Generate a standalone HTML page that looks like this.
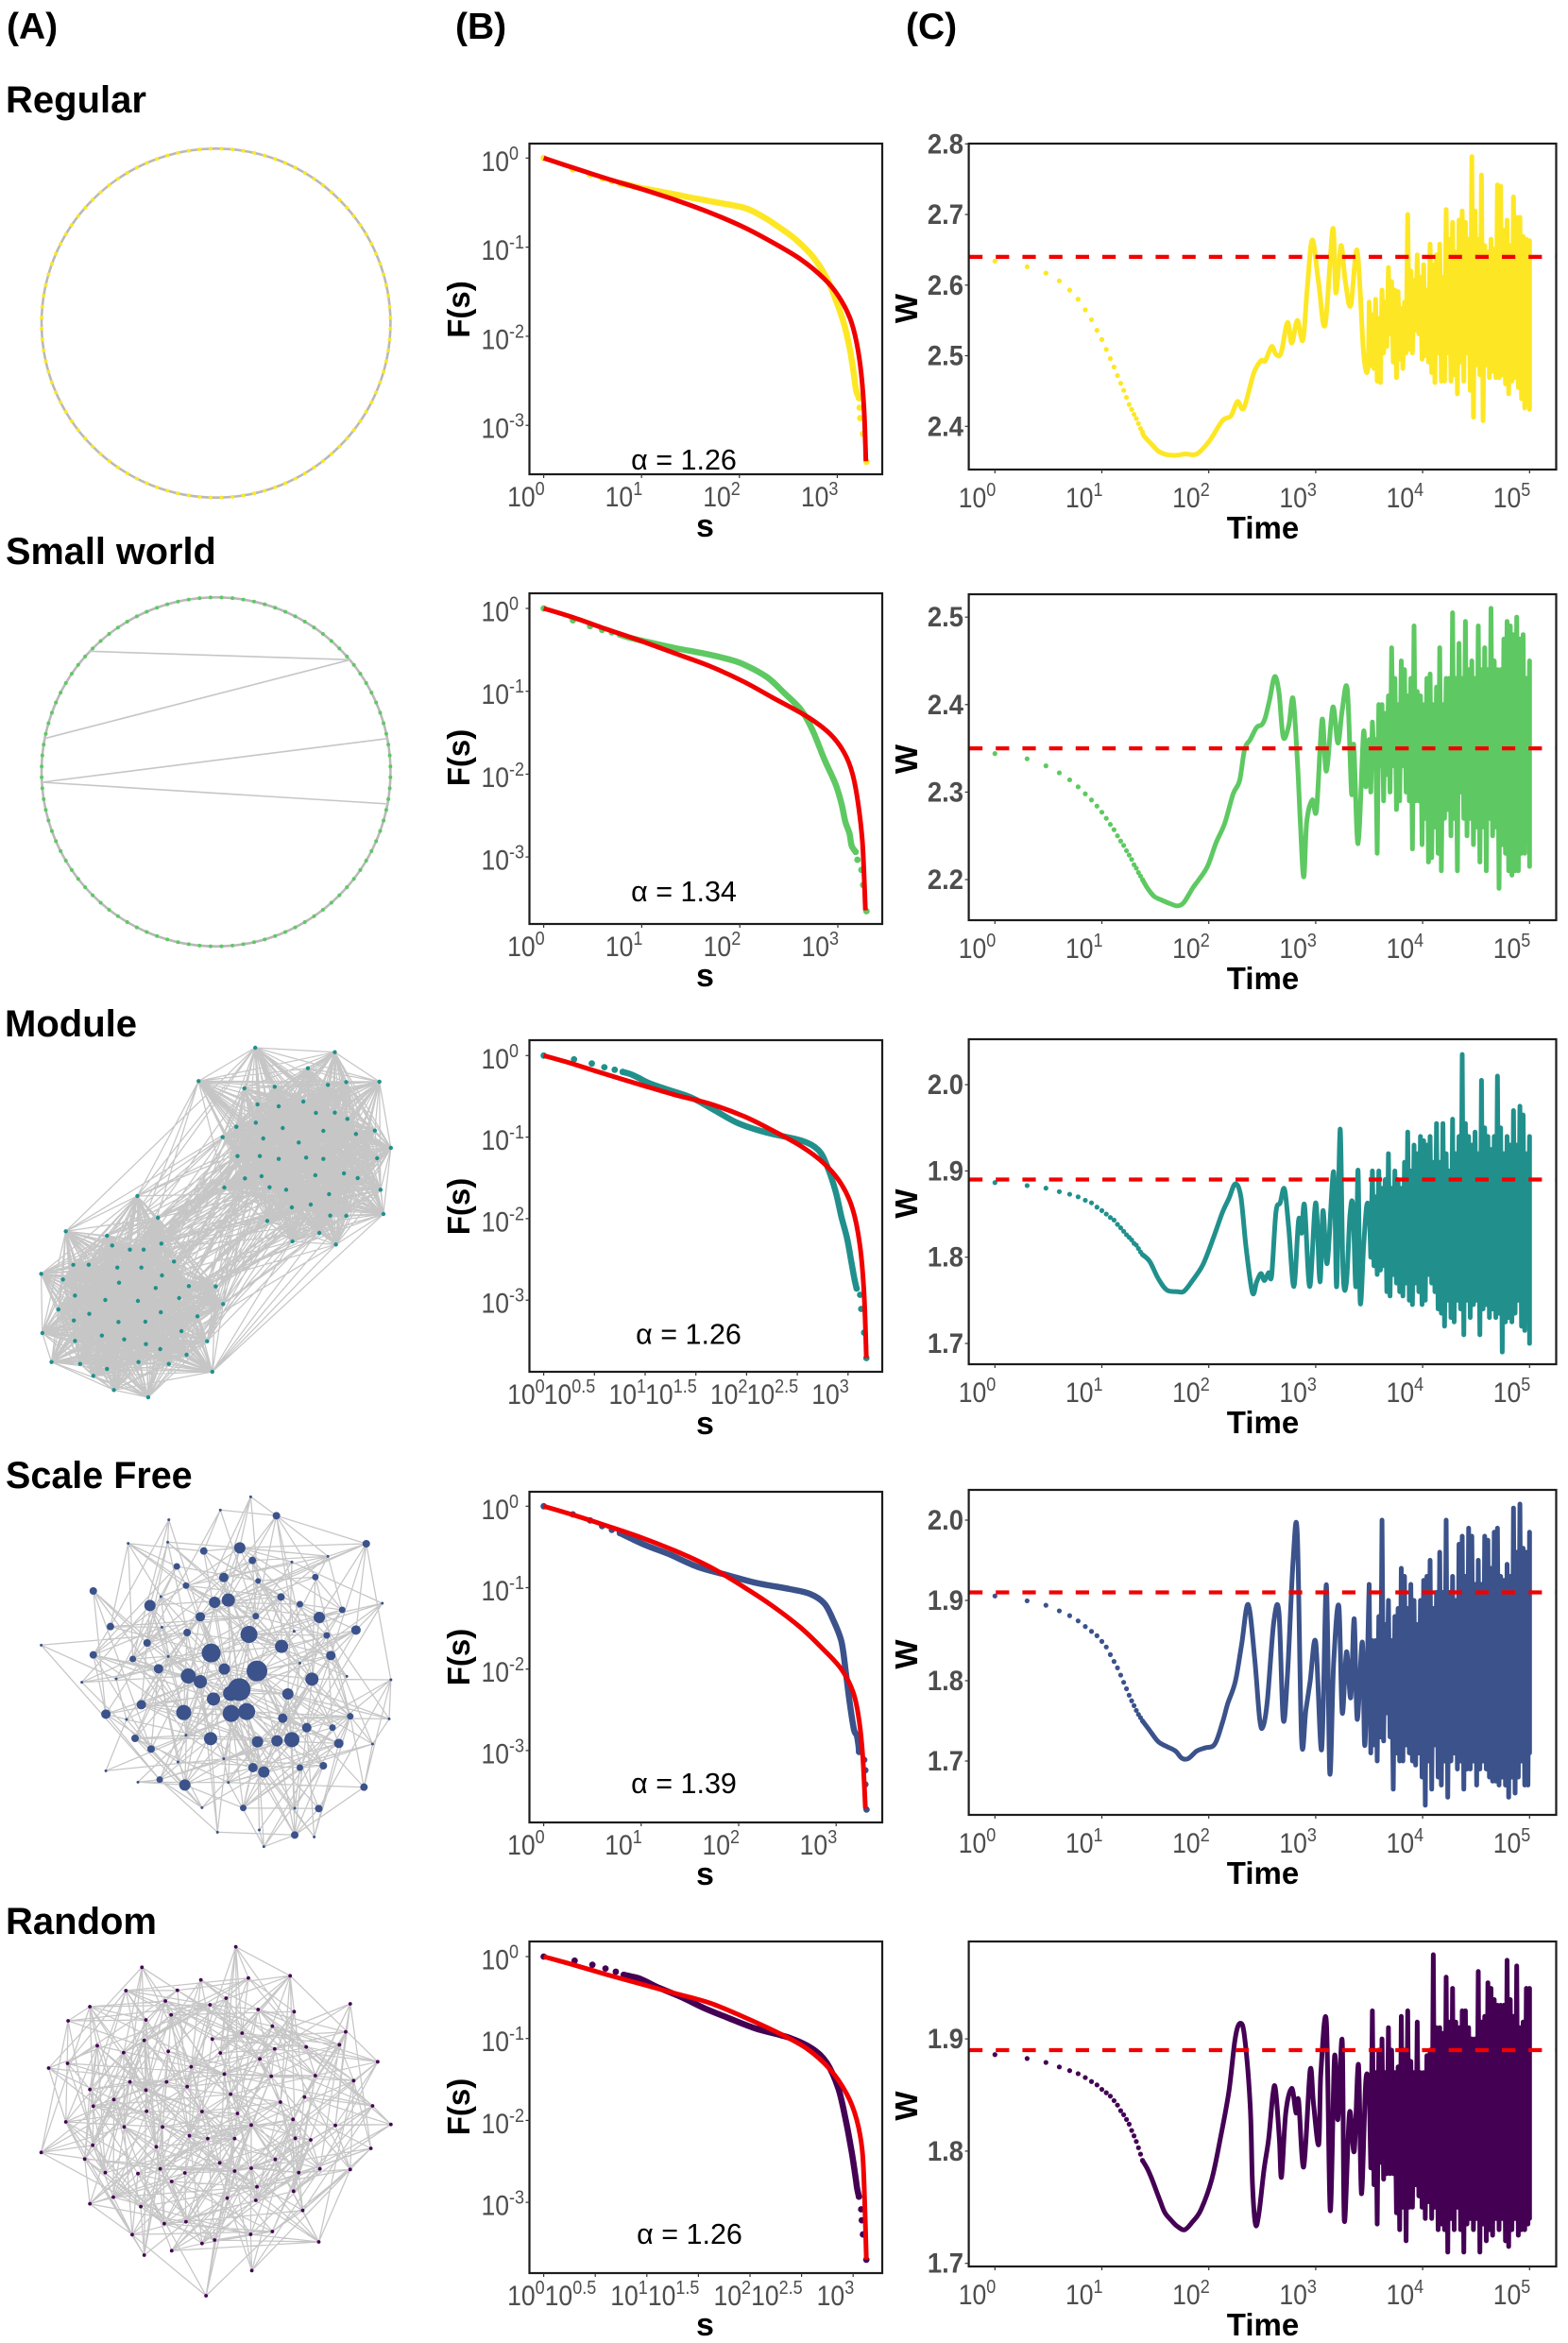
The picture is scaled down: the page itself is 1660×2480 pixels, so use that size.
<!DOCTYPE html>
<html lang="en">
<head>
<meta charset="utf-8">
<title>Network dynamics panels</title>
<style>
html,body{margin:0;padding:0;background:#fff}
svg{display:block;font-family:"Liberation Sans",Arial,sans-serif}
.h{font-weight:700;fill:#000}
</style>
</head>
<body>
<svg id="figure" xmlns="http://www.w3.org/2000/svg" width="1660" height="2480" viewBox="0 0 1660 2480">
<rect width="1660" height="2480" fill="#fff"/>
<text class="h" x="7" y="41" font-size="39">(A)</text>
<text class="h" x="482" y="41" font-size="39">(B)</text>
<text class="h" x="959" y="41" font-size="39">(C)</text>
<text class="h" x="6" y="119" font-size="40">Regular</text>
<text class="h" x="6" y="597" font-size="39.7">Small world</text>
<text class="h" x="5" y="1097" font-size="40">Module</text>
<text class="h" x="6" y="1575" font-size="39.5">Scale Free</text>
<text class="h" x="6" y="2047" font-size="40">Random</text>
</svg>
<script>
// ---------- tick values ----------
const fsYTicks = [0,-1,-2,-3];
const fsXTicksPlain = [0,1,2,3];
const fsXTicksHalf = [0,0.5,1,1.5,2,2.5,3];
const timeTicks = [0,1,2,3,4,5];
const regularWTicks = [2.4,2.5,2.6,2.7,2.8];
const smallWorldWTicks = [2.2,2.3,2.4,2.5];
const moduleWTicks = [1.7,1.8,1.9,2.0];
const scaleFreeWTicks = [1.7,1.8,1.9,2.0];
const randomWTicks = [1.7,1.8,1.9];

// ---------- printed values ----------
const alphaValues = ['1.26','1.34','1.26','1.39','1.26'];
const baselineW = [2.64,2.35,1.89,1.91,1.89];

// ---------- column B: survival F(s), log10 units ----------
const regularFsLogS = [0,.298,.474,.602,.696,.778,.877,.994,1.17,1.462,1.754,2.047,2.222,2.398,2.573,2.749,2.895,2.982,3.07,3.129,3.17,3.193,3.222,3.228,3.234,3.263,3.298];
const regularFsLogF = [0,-.127,-.187,-.23,-.258,-.283,-.304,-.336,-.371,-.435,-.495,-.558,-.647,-.77,-.912,-1.106,-1.353,-1.583,-1.866,-2.148,-2.431,-2.608,-2.696,-2.802,-2.919,-3.095,-3.41];
const regularFitLogS = [0,.292,.643,.994,1.345,1.696,2.047,2.339,2.632,2.865,3.012,3.129,3.199,3.246,3.275,3.292];
const regularFitLogF = [0,-.106,-.23,-.346,-.47,-.611,-.777,-.947,-1.141,-1.353,-1.548,-1.795,-2.078,-2.431,-2.855,-3.403];

const smallWorldFsLogS = [0,.298,.473,.596,.695,.776,.876,1.051,1.343,1.635,1.868,2.043,2.277,2.452,2.627,2.744,2.861,2.977,3.036,3.077,3.118,3.141,3.182,3.2,3.24,3.258,3.292];
const smallWorldFsLogF = [0,-.144,-.213,-.259,-.289,-.316,-.354,-.403,-.479,-.544,-.608,-.677,-.829,-1.019,-1.228,-1.475,-1.817,-2.122,-2.35,-2.578,-2.711,-2.863,-2.939,-3.034,-3.156,-3.338,-3.654];
const smallWorldFitLogS = [0,.292,.642,.992,1.343,1.693,2.043,2.335,2.685,2.919,3.065,3.152,3.211,3.252,3.281];
const smallWorldFitLogF = [0,-.106,-.251,-.392,-.544,-.696,-.886,-1.076,-1.304,-1.513,-1.741,-2.008,-2.388,-2.844,-3.643];

const moduleFsLogS = [0,.299,.474,.598,.7,.778,.846,.93,1.043,1.241,1.466,1.692,1.917,2.2,2.538,2.707,2.792,2.876,2.933,2.99,3.03,3.063,3.085,3.119,3.13,3.158,3.181];
const moduleFsLogF = [0,-.046,-.097,-.143,-.174,-.2,-.224,-.27,-.34,-.425,-.521,-.676,-.83,-.946,-1.042,-1.158,-1.351,-1.66,-1.969,-2.239,-2.51,-2.741,-2.857,-2.934,-3.108,-3.398,-3.71];
const moduleFitLogS = [0,.282,.62,.959,1.297,1.636,1.974,2.256,2.538,2.764,2.933,3.046,3.119,3.158,3.181];
const moduleFitLogF = [0,-.1,-.232,-.359,-.483,-.591,-.745,-.919,-1.112,-1.324,-1.575,-1.884,-2.347,-2.927,-3.71];

const scaleFreeFsLogS = [0,.299,.476,.599,.699,.781,.881,1.057,1.292,1.585,1.879,2.173,2.525,2.73,2.877,2.965,3.053,3.1,3.141,3.182,3.212,3.229,3.235,3.288,3.3,3.3,3.312];
const scaleFreeFsLogF = [0,-.1,-.174,-.244,-.29,-.329,-.387,-.484,-.592,-.747,-.844,-.94,-1.017,-1.075,-1.191,-1.385,-1.656,-2.043,-2.43,-2.739,-2.817,-2.933,-3.017,-3.114,-3.242,-3.416,-3.725];
const scaleFreeFitLogS = [0,.294,.646,.998,1.351,1.703,2.055,2.349,2.642,2.877,3.053,3.171,3.23,3.271,3.3];
const scaleFreeFitLogF = [0,-.104,-.24,-.383,-.549,-.743,-.994,-1.226,-1.497,-1.768,-2.0,-2.271,-2.58,-3.044,-3.714];

const randomFsLogS = [0,.3,.472,.599,.699,.776,.849,.915,.998,1.109,1.331,1.553,1.775,2.052,2.385,2.607,2.745,2.856,2.928,2.984,3.017,3.028,3.039,3.056,3.078,3.084,3.095,3.128];
const randomFsLogF = [0,-.05,-.1,-.146,-.185,-.223,-.242,-.262,-.308,-.377,-.492,-.627,-.742,-.877,-.992,-1.127,-1.3,-1.608,-1.992,-2.373,-2.642,-2.738,-2.835,-2.931,-3.085,-3.219,-3.392,-3.7];
const randomFitLogS = [0,.277,.61,.943,1.276,1.608,1.941,2.274,2.551,2.773,2.94,3.034,3.089,3.111,3.128];
const randomFitLogF = [0,-.096,-.219,-.335,-.45,-.565,-.738,-.931,-1.123,-1.373,-1.681,-1.988,-2.373,-2.95,-3.7];

// ---------- column C: W(t) ----------
const earlyTimes = [1,2,3,4,5,6,7,8,9,10,11,12,13,14,15,16,17,18,19,20,21,22,23,24];
const regularEarlyW = [2.634,2.626,2.617,2.606,2.593,2.58,2.565,2.551,2.536,2.523,2.509,2.496,2.484,2.472,2.461,2.451,2.441,2.431,2.424,2.417,2.411,2.404,2.397,2.392];
const smallWorldEarlyW = [2.344,2.338,2.33,2.322,2.314,2.306,2.298,2.291,2.284,2.277,2.27,2.263,2.257,2.25,2.244,2.239,2.233,2.228,2.223,2.217,2.213,2.208,2.204,2.2];
const moduleEarlyW = [1.8865,1.883,1.88,1.876,1.873,1.87,1.866,1.863,1.858,1.854,1.85,1.846,1.843,1.838,1.834,1.83,1.826,1.823,1.82,1.816,1.814,1.81,1.806,1.803];
const scaleFreeEarlyW = [1.9055,1.8995,1.894,1.887,1.881,1.8745,1.8675,1.8615,1.856,1.849,1.842,1.8325,1.824,1.816,1.807,1.798,1.79,1.782,1.775,1.769,1.763,1.758,1.754,1.75];
const randomEarlyW = [1.886,1.8825,1.879,1.875,1.8717,1.869,1.8655,1.862,1.859,1.855,1.852,1.849,1.845,1.841,1.836,1.8324,1.8282,1.824,1.8184,1.8136,1.8086,1.803,1.7973,1.7917];

const regularMidLogT = [1.396,1.476,1.528,1.604,1.70,1.78,1.888,2.004,2.128,2.208,2.268,2.328,2.42,2.488,2.528,2.588,2.628,2.676,2.736,2.776,2.828,2.88,2.92,2.968,3.028,3.088,3.16,3.188,3.236,3.276,3.328,3.388,3.448,3.488];
const regularMidW = [2.386,2.373,2.365,2.36,2.359,2.361,2.361,2.379,2.408,2.415,2.435,2.426,2.475,2.493,2.493,2.513,2.502,2.504,2.547,2.518,2.55,2.522,2.593,2.664,2.602,2.544,2.68,2.589,2.656,2.607,2.571,2.649,2.504,2.482];
const smallWorldMidLogT = [1.428,1.488,1.568,1.648,1.708,1.768,1.848,1.908,1.988,2.068,2.148,2.228,2.288,2.336,2.388,2.448,2.496,2.528,2.568,2.616,2.656,2.696,2.748,2.788,2.828,2.856,2.888,2.916,2.968,3.008,3.06,3.1,3.16,3.208,3.248,3.296,3.336,3.356,3.396,3.448,3.468];
const smallWorldMidW = [2.19,2.181,2.176,2.172,2.17,2.174,2.19,2.2,2.215,2.242,2.264,2.298,2.313,2.349,2.36,2.374,2.377,2.385,2.405,2.432,2.414,2.363,2.376,2.407,2.338,2.266,2.203,2.266,2.291,2.28,2.383,2.324,2.397,2.356,2.394,2.417,2.298,2.354,2.241,2.369,2.306];
const moduleMidLogT = [1.448,1.528,1.608,1.708,1.768,1.848,1.948,2.048,2.128,2.188,2.248,2.3,2.348,2.408,2.448,2.488,2.52,2.56,2.588,2.628,2.668,2.708,2.748,2.796,2.84,2.868,2.896,2.944,3.0,3.04,3.068,3.108,3.168,3.196,3.228,3.256,3.288,3.32,3.348,3.376,3.396,3.416,3.448,3.476];
const moduleMidW = [1.795,1.775,1.762,1.76,1.7605,1.773,1.792,1.824,1.852,1.868,1.885,1.87,1.812,1.759,1.7715,1.781,1.773,1.782,1.779,1.852,1.863,1.879,1.8335,1.766,1.843,1.828,1.86,1.766,1.863,1.7715,1.854,1.793,1.899,1.766,1.9485,1.782,1.7715,1.848,1.859,1.766,1.901,1.748,1.812,1.859];
const scaleFreeMidLogT = [1.448,1.528,1.608,1.688,1.748,1.808,1.888,1.968,2.056,2.128,2.176,2.248,2.308,2.368,2.428,2.476,2.508,2.548,2.608,2.656,2.696,2.736,2.788,2.828,2.868,2.908,2.948,3.0,3.056,3.1,3.132,3.168,3.216,3.248,3.288,3.328,3.36,3.388,3.436,3.46];
const scaleFreeMidW = [1.738,1.724,1.718,1.7125,1.7035,1.703,1.7125,1.7165,1.721,1.748,1.771,1.799,1.846,1.895,1.83,1.752,1.743,1.775,1.873,1.885,1.752,1.807,1.948,1.983,1.726,1.7635,1.799,1.848,1.7145,1.9195,1.685,1.822,1.893,1.76,1.836,1.779,1.877,1.752,1.848,1.72];
const randomMidLogT = [1.428,1.468,1.508,1.548,1.588,1.648,1.708,1.776,1.848,1.928,2.028,2.108,2.188,2.248,2.296,2.336,2.388,2.408,2.436,2.468,2.516,2.56,2.6,2.624,2.66,2.68,2.72,2.776,2.816,2.84,2.888,2.948,2.98,3.028,3.048,3.1,3.136,3.176,3.208,3.248,3.268,3.316,3.36,3.4,3.428,3.468];
const randomMidW = [1.7839,1.775,1.765,1.755,1.7454,1.7384,1.7328,1.73,1.737,1.748,1.775,1.811,1.853,1.901,1.914,1.901,1.8394,1.772,1.735,1.744,1.783,1.811,1.8506,1.855,1.811,1.777,1.834,1.856,1.834,1.845,1.786,1.872,1.842,1.806,1.869,1.915,1.747,1.884,1.828,1.898,1.738,1.834,1.80,1.877,1.762,1.862];

const lateLogT = [3.500,3.515,3.530,3.545,3.560,3.575,3.590,3.605,3.620,3.635,3.650,3.665,3.680,3.695,3.710,3.725,3.740,3.755,3.770,3.785,3.800,3.815,3.830,3.845,3.860,3.875,3.890,3.905,3.920,3.935,3.950,3.965,3.980,3.995,4.010,4.025,4.040,4.055,4.070,4.085,4.100,4.115,4.130,4.145,4.160,4.175,4.190,4.205,4.220,4.235,4.250,4.265,4.280,4.295,4.310,4.325,4.340,4.355,4.370,4.385,4.400,4.415,4.430,4.445,4.460,4.475,4.490,4.505,4.520,4.535,4.550,4.565,4.580,4.595,4.610,4.625,4.640,4.655,4.670,4.685,4.700,4.715,4.730,4.745,4.760,4.775,4.790,4.805,4.820,4.835,4.850,4.865,4.880,4.895,4.910,4.925,4.940,4.955,4.970,4.985,5.000,5.000];
const regularLateW = [2.576,2.486,2.558,2.482,2.58,2.464,2.553,2.462,2.593,2.504,2.576,2.513,2.625,2.531,2.605,2.491,2.593,2.469,2.591,2.495,2.567,2.482,2.576,2.504,2.7,2.509,2.62,2.504,2.607,2.536,2.643,2.531,2.611,2.495,2.629,2.5,2.593,2.491,2.658,2.476,2.629,2.462,2.643,2.504,2.658,2.464,2.611,2.464,2.707,2.504,2.665,2.464,2.689,2.473,2.647,2.446,2.692,2.491,2.705,2.464,2.689,2.504,2.665,2.451,2.782,2.413,2.705,2.487,2.665,2.473,2.756,2.408,2.656,2.487,2.647,2.469,2.665,2.478,2.651,2.469,2.742,2.469,2.74,2.473,2.678,2.46,2.692,2.446,2.656,2.464,2.725,2.469,2.696,2.455,2.696,2.439,2.669,2.426,2.665,2.433,2.663,2.424];
const smallWorldLateW = [2.36,2.3,2.38,2.34,2.36,2.23,2.4,2.33,2.4,2.29,2.39,2.32,2.41,2.3,2.465,2.33,2.43,2.28,2.4,2.29,2.45,2.33,2.44,2.3,2.41,2.29,2.43,2.235,2.49,2.29,2.415,2.29,2.41,2.24,2.4,2.27,2.43,2.22,2.435,2.225,2.4,2.26,2.42,2.23,2.465,2.21,2.4,2.27,2.43,2.28,2.43,2.25,2.505,2.27,2.43,2.21,2.47,2.3,2.43,2.27,2.495,2.25,2.44,2.27,2.45,2.24,2.43,2.26,2.49,2.22,2.44,2.26,2.465,2.21,2.44,2.27,2.51,2.25,2.45,2.26,2.44,2.19,2.44,2.24,2.475,2.23,2.495,2.21,2.49,2.205,2.48,2.21,2.5,2.21,2.475,2.23,2.48,2.23,2.43,2.25,2.45,2.215];
const moduleLateW = [1.86,1.8,1.9,1.79,1.87,1.78,1.9,1.785,1.88,1.79,1.89,1.76,1.92,1.755,1.88,1.78,1.9,1.77,1.89,1.76,1.88,1.755,1.91,1.77,1.945,1.75,1.9,1.745,1.93,1.77,1.92,1.76,1.94,1.745,1.935,1.75,1.93,1.78,1.94,1.77,1.91,1.76,1.955,1.74,1.91,1.735,1.955,1.72,1.92,1.75,1.9,1.73,1.96,1.725,1.92,1.75,1.94,1.74,2.035,1.71,1.955,1.75,1.94,1.73,1.93,1.745,1.945,1.75,1.92,1.71,2.005,1.74,1.95,1.745,1.94,1.73,1.925,1.74,1.94,1.73,2.01,1.735,1.95,1.69,1.92,1.725,1.94,1.73,1.93,1.725,1.97,1.735,1.93,1.75,1.975,1.72,1.965,1.715,1.92,1.74,1.94,1.7];
const scaleFreeLateW = [1.92,1.71,1.85,1.72,1.85,1.7,1.88,1.73,2.0,1.725,1.87,1.76,1.9,1.73,1.85,1.665,1.88,1.71,1.89,1.7,1.94,1.7,1.93,1.72,1.89,1.71,1.92,1.7,1.9,1.695,1.87,1.71,1.9,1.68,1.925,1.645,1.93,1.7,1.95,1.665,1.89,1.72,1.91,1.68,1.96,1.67,1.91,1.7,2.0,1.655,1.91,1.7,1.93,1.71,1.9,1.69,1.97,1.7,1.98,1.665,1.93,1.69,1.99,1.69,1.98,1.7,1.92,1.67,1.95,1.69,1.92,1.7,1.98,1.69,1.975,1.68,1.94,1.675,1.985,1.675,1.99,1.67,1.93,1.68,1.925,1.67,1.945,1.655,1.93,1.68,2.015,1.66,1.96,1.68,2.02,1.7,1.965,1.67,1.96,1.67,1.985,1.71];
const randomLateW = [1.86,1.785,1.925,1.77,1.87,1.735,1.89,1.79,1.9,1.775,1.87,1.78,1.91,1.78,1.89,1.78,1.87,1.745,1.875,1.73,1.92,1.75,1.89,1.72,1.925,1.75,1.88,1.75,1.87,1.77,1.915,1.76,1.87,1.75,1.87,1.74,1.885,1.755,1.89,1.74,1.975,1.75,1.91,1.73,1.91,1.735,1.905,1.73,1.955,1.71,1.915,1.74,1.945,1.73,1.915,1.75,1.91,1.73,1.925,1.71,1.925,1.735,1.91,1.74,1.9,1.73,1.9,1.74,1.96,1.71,1.915,1.735,1.92,1.72,1.95,1.73,1.945,1.725,1.935,1.74,1.93,1.73,1.93,1.74,1.93,1.72,1.97,1.715,1.935,1.73,1.92,1.74,1.965,1.725,1.91,1.73,1.915,1.73,1.945,1.735,1.945,1.74];

// ---------- column A: network layouts (layout units) ----------
const ringNodeCount = 100;
const smallWorldShortcuts = [[155,358,612,385],[78,635,612,385],[678,635,73,774],[73,774,680,843]];
const moduleUpperNodes = [[446,147],[585,161],[538,212],[347,253],[663,255],[605,256],[573,265],[480,271],[427,276],[530,318],[487,333],[450,327],[552,354],[585,353],[607,373],[447,385],[413,398],[494,402],[565,411],[655,410],[622,421],[389,431],[460,435],[522,448],[683,465],[415,491],[454,491],[487,500],[535,496],[565,500],[659,498],[601,546],[551,552],[625,561],[457,555],[428,562],[392,591],[471,590],[500,598],[575,612],[665,598],[510,654],[543,645],[670,675],[605,681],[577,680],[467,697],[558,735],[511,762],[587,772]];
const moduleLowerNodes = [[240,618],[276,687],[115,730],[187,744],[196,775],[227,788],[251,788],[282,769],[304,826],[155,836],[128,836],[205,845],[247,845],[283,870],[72,865],[110,883],[208,893],[272,910],[330,904],[377,905],[131,934],[184,948],[241,951],[313,942],[390,961],[102,978],[156,992],[281,987],[345,1000],[129,1013],[207,1018],[254,1017],[317,1047],[74,1053],[178,1061],[131,1078],[217,1073],[255,1088],[362,1079],[280,1104],[326,1122],[90,1145],[140,1151],[242,1145],[295,1151],[187,1167],[371,1176],[163,1189],[199,1234],[259,1257]];
const scaleFreeNodes = [[438,133,1.5],[385,175,1.5],[483,193,4],[295,206,1.5],[224,281,1.5],[293,277,1.5],[640,282,4],[419,295,6],[356,305,4],[441,335,4],[573,322,1.5],[510,340,1.5],[309,354,3.5],[391,389,5],[551,388,3.5],[451,400,3],[325,415,3.5],[163,432,4],[491,451,4],[281,450,1.5],[399,461,7],[375,468,6],[262,478,6],[524,474,3.5],[668,471,1.5],[598,492,3.5],[350,514,5],[447,512,3.5],[558,516,6],[193,545,4],[283,547,1.5],[622,556,5],[327,564,4],[514,560,1.5],[435,570,9],[571,573,3.5],[257,597,4],[72,604,1.5],[492,608,7],[369,629,10],[163,635,4],[578,637,5],[294,640,1.5],[232,648,3.5],[524,661,1.5],[392,680,6],[277,679,5],[449,686,11],[329,702,8],[143,722,1.5],[203,711,1.5],[606,703,1.5],[350,720,7],[545,712,7],[683,714,1.5],[418,745,12],[403,757,8],[503,759,6],[373,775,7],[247,793,5],[321,818,8],[404,821,9],[431,815,9],[185,823,5],[612,830,3.5],[494,836,5],[680,838,1.5],[221,840,1.5],[536,866,5],[581,866,3.5],[325,890,1.5],[368,901,7],[510,904,8],[484,908,6],[450,911,6],[236,900,4],[592,916,5],[651,918,1.5],[264,934,4],[391,965,1.5],[311,975,1.5],[565,987,4],[442,993,5],[524,993,3.5],[461,1007,6],[185,1003,1.5],[279,1031,3.5],[241,1039,1.5],[399,1040,1.5],[323,1048,6],[636,1055,4],[353,1120,1.5],[425,1121,3.5],[515,1122,1.5],[557,1123,4],[380,1198,1.5],[453,1191,1.5],[515,1207,4],[549,1213,1.5],[461,1244,1.5]];
const randomNodes = [[412,152],[248,217],[507,244],[434,251],[351,257],[220,291],[310,290],[395,315],[289,324],[612,333],[157,342],[367,336],[451,351],[514,358],[299,368],[119,387],[255,384],[476,404],[604,422],[423,426],[252,449],[371,445],[593,463],[170,466],[535,470],[480,476],[294,484],[216,488],[385,489],[454,508],[660,517],[118,522],[85,537],[334,533],[392,556],[474,563],[551,561],[618,577],[227,581],[291,581],[327,596],[157,605],[255,607],[403,620],[532,629],[199,637],[490,645],[163,658],[651,657],[256,674],[353,675],[415,681],[512,700],[115,708],[586,719],[683,716],[217,724],[284,724],[439,718],[331,752],[363,761],[410,761],[516,760],[543,765],[162,782],[273,787],[648,792],[72,805],[148,826],[481,827],[384,838],[280,857],[439,855],[559,857],[612,859],[522,869],[410,864],[241,872],[323,870],[184,869],[300,897],[449,914],[513,928],[198,947],[397,950],[447,957],[157,968],[246,977],[529,989],[325,1025],[287,1031],[476,1056],[438,1065],[231,1066],[375,1083],[353,1094],[557,1089],[300,1117],[252,1131],[440,1180],[360,1260]];

// ---------- helpers ----------
const svg = document.getElementById('figure');
const NS = 'http://www.w3.org/2000/svg';
function mk(tag, attrs, parent){
  const n = document.createElementNS(NS, tag);
  for (const k in attrs) n.setAttribute(k, attrs[k]);
  (parent || svg).appendChild(n);
  return n;
}
function powerLabel(group, exp, x, y){
  const t = mk('text', {transform:'translate(' + x + ' ' + y + ') scale(.9 1)', 'text-anchor':'end', 'font-size':29.5, fill:'#4d4d4d'}, group);
  t.appendChild(document.createTextNode('10'));
  const s = mk('tspan', {dy:-12, 'font-size':20}, t);
  s.textContent = String(exp);
  return t;
}
function pathOf(xs, ys){
  let d = '';
  for (let i = 0; i < xs.length; i++) d += (i ? 'L' : 'M') + xs[i].toFixed(1) + ' ' + ys[i].toFixed(1);
  return d;
}
function smoothOf(xs, ys){
  let d = 'M' + xs[0].toFixed(1) + ' ' + ys[0].toFixed(1);
  for (let i = 0; i < xs.length - 1; i++){
    const a = Math.max(i - 1, 0), b = Math.min(i + 2, xs.length - 1);
    const c1x = xs[i] + (xs[i + 1] - xs[a]) / 6, c1y = ys[i] + (ys[i + 1] - ys[a]) / 6;
    const c2x = xs[i + 1] - (xs[b] - xs[i]) / 6, c2y = ys[i + 1] - (ys[b] - ys[i]) / 6;
    d += 'C' + c1x.toFixed(1) + ' ' + c1y.toFixed(1) + ' ' + c2x.toFixed(1) + ' ' + c2y.toFixed(1) + ' ' + xs[i + 1].toFixed(1) + ' ' + ys[i + 1].toFixed(1);
  }
  return d;
}

// ---------- column B ----------
const fsColors = ['#fde725','#5ec962','#21908c','#3b528b','#440154'];
const rowNames = ['regular','small-world','module','scale-free','random'];
function drawFs(row, logS, logF, fitS, fitF, xTicks, fr, x0, kx, y0, ky, alphaX, alphaY, titleY){
  const g = mk('g', {});
  
  
  const X = v => x0 + kx * v;
  const Y = v => y0 - ky * v;
  const color = fsColors[row];
  const headDots = 5, tailDots = 5;
  const line = mk('path', {d:smoothOf(logS.slice(headDots, logS.length - tailDots + 1).map(X), logF.slice(headDots, logF.length - tailDots + 1).map(Y)), fill:'none', stroke:color, 'stroke-width':6.5, 'stroke-linejoin':'round', 'stroke-linecap':'round'}, g);
  
  
  logS.forEach((v, i) => {
    if (i > headDots && i < logS.length - tailDots) return;
    const c = mk('circle', {cx:X(v), cy:Y(logF[i]), r:3.4, fill:color}, g);
    
    
  });
  const fit = mk('path', {d:smoothOf(fitS.map(X), fitF.map(Y)), fill:'none', stroke:'#f00000', 'stroke-width':5, 'stroke-linejoin':'round'}, g);
  
  
  const frame = mk('rect', {x:560.5, y:fr[0], width:373.5, height:fr[1] - fr[0], fill:'none', stroke:'#1c1c1c', 'stroke-width':2.2}, g);
  
  
  xTicks.forEach(v => {
    const tick = mk('line', {x1:X(v), x2:X(v), y1:fr[1], y2:fr[1] + 4, stroke:'#333', 'stroke-width':1.2}, g);
    
    
    const lab = powerLabel(g, v, X(v) + 1, fr[1] + 34);
    
    
  });
  fsYTicks.forEach(v => {
    const tick = mk('line', {x1:556.5, x2:560.5, y1:Y(v), y2:Y(v), stroke:'#333', 'stroke-width':1.2}, g);
    
    
    const lab = powerLabel(g, v, v === 0 ? 549 : 555, Y(v) + 13.5);
    
    
  });
  const a = mk('text', {x:alphaX, y:alphaY + 10, 'text-anchor':'middle', 'font-size':30.5, fill:'#000'}, g);
  a.textContent = 'α = ' + alphaValues[row];
  
  
  const yt = mk('text', {transform:'translate(497 ' + titleY + ') rotate(-90)', 'text-anchor':'middle', 'font-size':33, 'font-weight':700, fill:'#000'}, g);
  yt.textContent = 'F(s)';
  
  
  const xt = mk('text', {x:746.5, y:fr[1] + 66, 'text-anchor':'middle', 'font-size':34, 'font-weight':700, fill:'#000'}, g);
  xt.textContent = 's';
  
  
}
drawFs(0, regularFsLogS, regularFsLogF, regularFitLogS, regularFitLogF, fsXTicksPlain, [152,502], 575.6, 103.6, 167.3, 94.3, 724, 487, 327.5);
drawFs(1, smallWorldFsLogS, smallWorldFsLogF, smallWorldFitLogS, smallWorldFitLogF, fsXTicksPlain, [628,978], 575.6, 103.8, 644, 87.7, 724, 944, 802);
drawFs(2, moduleFsLogS, moduleFsLogF, moduleFitLogS, moduleFitLogF, fsXTicksHalf, [1101,1452], 575.6, 107.4, 1117.3, 86.3, 729, 1412.7, 1277);
drawFs(3, scaleFreeFsLogS, scaleFreeFsLogF, scaleFreeFitLogS, scaleFreeFitLogF, fsXTicksPlain, [1579,1929], 575.6, 103.2, 1594.3, 86.2, 724, 1888, 1754);
drawFs(4, randomFsLogS, randomFsLogF, randomFitLogS, randomFitLogF, fsXTicksHalf, [2055,2406], 575.6, 109.2, 2071, 86.7, 730, 2365, 2230);

// ---------- column C ----------
function drawW(row, earlyW, midT, midW, lateW, wTicks, fr, vRef, yRef, kY){
  const g = mk('g', {});
  
  
  const X = v => 1053.3 + 113.2 * v;
  const Y = v => yRef - (v - vRef) * kY;
  const color = fsColors[row];
  const smoothXs = [Math.log10(earlyTimes[earlyTimes.length - 1])].concat(midT, [lateLogT[0]]);
  const smoothYs = [earlyW[earlyW.length - 1]].concat(midW, [lateW[0]]);
  const lateTail = pathOf(lateLogT.map(X), lateW.map(Y)).replace(/^M/, 'L');
  const line = mk('path', {d:smoothOf(smoothXs.map(X), smoothYs.map(Y)) + lateTail, fill:'none', stroke:color, 'stroke-width':5, 'stroke-linejoin':'round', 'stroke-linecap':'round'}, g);
  
  
  earlyTimes.forEach((t, i) => {
    const c = mk('circle', {cx:X(Math.log10(t)), cy:Y(earlyW[i]), r:2.6, fill:color}, g);
    
    
  });
  const base = mk('line', {x1:1026, x2:1647, y1:Y(baselineW[row]), y2:Y(baselineW[row]), stroke:'#f20000', 'stroke-width':4.2, 'stroke-dasharray':'14.2 14'}, g);
  
  
  const frame = mk('rect', {x:1025.6, y:fr[0], width:621.9, height:fr[1] - fr[0], fill:'none', stroke:'#1c1c1c', 'stroke-width':2.2}, g);
  
  
  timeTicks.forEach(v => {
    const tick = mk('line', {x1:X(v), x2:X(v), y1:fr[1], y2:fr[1] + 4, stroke:'#333', 'stroke-width':1.2}, g);
    
    
    const lab = powerLabel(g, v, X(v) + 1, fr[1] + 40);
    
    
  });
  wTicks.forEach(v => {
    const tick = mk('line', {x1:1021.6, x2:1025.6, y1:Y(v), y2:Y(v), stroke:'#333', 'stroke-width':1.2}, g);
    
    
    const lab = mk('text', {transform:'translate(1020 ' + (Y(v) + 10) + ') scale(.93 1)', 'text-anchor':'end', 'font-size':29.5, 'font-weight':700, fill:'#4d4d4d'}, g);
    lab.textContent = v.toFixed(1);
    
    
  });
  const yt = mk('text', {transform:'translate(971 ' + ((fr[0] + fr[1]) / 2 + 2) + ') rotate(-90)', 'text-anchor':'middle', 'font-size':33, 'font-weight':700, fill:'#000'}, g);
  yt.textContent = 'W';
  
  
  const xt = mk('text', {x:1337, y:fr[1] + 73, 'text-anchor':'middle', 'font-size':33, 'font-weight':700, fill:'#000'}, g);
  xt.textContent = 'Time';
  
  
}
drawW(0, regularEarlyW, regularMidLogT, regularMidW, regularLateW, regularWTicks, [152,497], 2.4, 451.3, 747.5);
drawW(1, smallWorldEarlyW, smallWorldMidLogT, smallWorldMidW, smallWorldLateW, smallWorldWTicks, [629,974], 2.2, 931, 926);
drawW(2, moduleEarlyW, moduleMidLogT, moduleMidW, moduleLateW, moduleWTicks, [1100,1444], 1.7, 1422, 913);
drawW(3, scaleFreeEarlyW, scaleFreeMidLogT, scaleFreeMidW, scaleFreeLateW, scaleFreeWTicks, [1577,1921], 1.7, 1864, 850);
drawW(4, randomEarlyW, randomMidLogT, randomMidW, randomLateW, randomWTicks, [2055,2399], 1.7, 2395.7, 1188);

// ---------- column A ----------
const edgeColor = '#c6c6c6';
function drawRing(row, cy){
  const g = mk('g', {});
  
  
  const ring = mk('circle', {cx:228.7, cy:cy, r:184.7, fill:'none', stroke:'#b9b9b9', 'stroke-width':2.6}, g);
  
  
  return g;
}
function drawRingNodes(g, row, cy){
  for (let i = 0; i < ringNodeCount; i++){
    const a = (i + 0.5) * 2 * Math.PI / ringNodeCount;
    const c = mk('circle', {cx:228.7 + 184.7 * Math.cos(a), cy:cy + 184.7 * Math.sin(a), r:2, fill:fsColors[row]}, g);
    
    
  }
}
const ringRegular = drawRing(0, 342);
drawRingNodes(ringRegular, 0, 342);
const ringSmall = drawRing(1, 817);
let chordPath = '';
smallWorldShortcuts.forEach(c => {
  chordPath += 'M' + (c[0] / 1.6505) + ' ' + (570 + c[1] / 3) + 'L' + (c[2] / 1.6505) + ' ' + (570 + c[3] / 3);
});
const chords = mk('path', {d:chordPath, stroke:edgeColor, 'stroke-width':1.6, fill:'none'}, ringSmall);


drawRingNodes(ringSmall, 1, 817);

function byDistance(from, list){
  return list.map((n, j) => [Math.hypot(n[0] - from[0], (n[1] - from[1]) / 1.8), j]).sort((a, b) => a[0] - b[0]).map(p => p[1]);
}
function wire(source, target, offset, picksFor, maxRank, skipSelf, edges){
  source.forEach((n, i) => {
    const order = byDistance(n, target);
    const picks = picksFor(n, i);
    for (let p = 0; p < picks; p++){
      const rank = (skipSelf ? 1 : 0) + Math.floor((p + (i % 3) / 3) * maxRank / picks);
      const j = order[Math.min(rank, order.length - 1)];
      const a = i, b = j + offset;
      edges.add(Math.min(a, b) + '-' + Math.max(a, b));
    }
  });
}
function drawGraph(row, nodes, edges, base, defaultR){
  const g = mk('g', {});
  
  
  const PX = v => v / 1.6505;
  const PY = v => base + v / 3;
  let d = '';
  edges.forEach(key => {
    const parts = key.split('-');
    const a = nodes[+parts[0]], b = nodes[+parts[1]];
    d += 'M' + PX(a[0]).toFixed(1) + ' ' + PY(a[1]).toFixed(1) + 'L' + PX(b[0]).toFixed(1) + ' ' + PY(b[1]).toFixed(1);
  });
  const e = mk('path', {d:d, fill:'none', stroke:edgeColor, 'stroke-width':1.25}, g);
  
  
  nodes.forEach(n => {
    const c = mk('circle', {cx:PX(n[0]), cy:PY(n[1]), r:n[2] || defaultR, fill:fsColors[row]}, g);
    
    
  });
}
const moduleNodes = moduleUpperNodes.concat(moduleLowerNodes);
const moduleEdges = new Set();
wire(moduleUpperNodes, moduleUpperNodes, 0, () => 28, 46, true, moduleEdges);
const lowerEdges = new Set();
wire(moduleLowerNodes, moduleLowerNodes, 0, () => 28, 46, true, lowerEdges);
lowerEdges.forEach(k => {
  const p = k.split('-');
  moduleEdges.add((+p[0] + moduleUpperNodes.length) + '-' + (+p[1] + moduleUpperNodes.length));
});
wire(moduleUpperNodes, moduleLowerNodes, moduleUpperNodes.length, () => 3, 24, false, moduleEdges);
drawGraph(2, moduleNodes, moduleEdges, 1060, 2.2);

const sfEdges = new Set();
wire(scaleFreeNodes, scaleFreeNodes, 0, n => 2 + Math.round(n[2] * 0.75), 42, true, sfEdges);
drawGraph(3, scaleFreeNodes, sfEdges, 1540, 2);

const randEdges = new Set();
wire(randomNodes, randomNodes, 0, () => 6, 44, true, randEdges);
drawGraph(4, randomNodes, randEdges, 2010, 1.9);
</script>
</body>
</html>
